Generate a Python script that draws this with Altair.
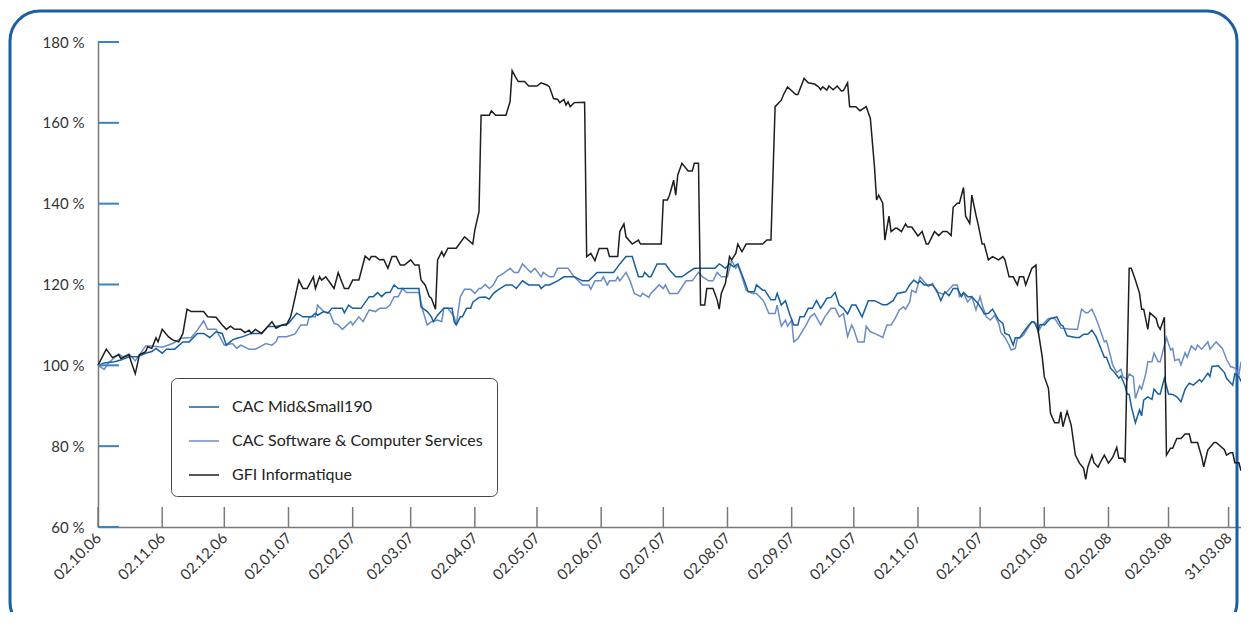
import altair as alt
import pandas as pd

START = "2006-10-02"
END_DAY = 552
SERIES = ["CAC Mid&Small190", "CAC Software & Computer Services", "GFI Informatique"]
COLORS = ["#17609f", "#6a8cc6", "#1e1e1e"]

# days since 02.10.06 and index values (%)
mid_days = [0, 3, 8, 11, 15, 19, 23, 26, 28, 31, 33, 37, 41, 44, 48, 51, 54, 57, 60, 62, 65, 67, 70, 74, 79, 82, 86, 89, 92, 96,
            99, 103, 105, 106, 109, 111, 113, 118, 119, 121, 123, 127, 131, 133, 135, 137, 139, 141, 143, 145, 147, 155, 156, 159,
            161, 162, 164, 167, 171, 172, 173, 175, 176, 178, 180, 181, 184, 187, 189, 191, 193, 197, 200, 202, 205, 208, 213, 214,
            216, 218, 222, 225, 230, 234, 237, 239, 241, 249, 252, 255, 258, 261, 263, 264, 266, 267, 270, 274, 276, 279, 282, 285,
            288, 298, 300, 301, 303, 305, 307, 309, 312, 314, 317, 318, 321, 322, 325, 327, 328, 330, 332, 334, 336, 338, 339, 341,
            343, 345, 347, 349, 352, 354, 356, 358, 360, 362, 364, 366, 369, 372, 375, 379, 381, 384, 386, 390, 392, 394, 396, 397,
            399, 403, 405, 407, 409, 411, 413, 415, 417, 418, 420, 422, 425, 427, 428, 430, 432, 435, 437, 438, 440, 442, 443, 445,
            446, 449, 451, 452, 454, 455, 457, 460, 463, 465, 466, 468, 472, 474, 476, 478, 480, 482, 484, 486, 487, 489, 491, 493,
            494, 496, 497, 498, 499, 501, 503, 504, 505, 507, 509, 510, 512, 513, 515, 517, 519, 521, 523, 525, 527, 529, 532, 533,
            536, 537, 538, 541, 544, 545, 548, 549, 551, 552]
mid_vals = [100.0, 100.6, 100.9, 101.3, 102.1, 102.1, 103.0, 103.4, 104.2, 103.0, 104.0, 104.0, 105.8, 105.8, 107.9, 107.9, 106.9,
            108.3, 107.9, 105.0, 106.3, 106.7, 107.1, 107.9, 107.9, 109.6, 109.6, 110.0, 110.4, 112.9,
            112.0, 112.0, 112.9, 112.4, 113.3, 112.9, 114.1, 114.1, 113.0, 114.9, 114.1, 114.1, 117.0, 117.0, 118.0, 117.0, 118.0,
            118.0, 119.9, 119.0, 119.0, 119.0, 114.5, 113.3,
            112.0, 110.8, 112.4, 114.1, 114.1, 110.8, 110.0, 112.0, 112.0, 114.1, 114.1, 115.6, 116.8, 116.9, 116.4, 117.8, 118.6,
            119.9, 119.9, 119.0, 120.9, 119.9, 119.9, 119.0,
            119.9, 119.9, 120.9, 121.9, 121.9, 120.9, 120.9, 121.9, 123.0, 123.0, 125.1, 126.9, 126.9, 121.9, 121.9, 123.0, 121.9,
            121.9, 125.1, 125.1, 123.6, 121.9, 121.9, 123.0,
            124.0, 124.0, 125.1, 124.8, 124.0, 125.1, 124.4, 125.1, 121.1, 118.2, 118.2, 119.9, 118.6, 118.6, 116.2, 116.2, 117.8,
            114.9, 116.0, 112.7, 110.0, 110.0, 112.0, 112.0,
            114.1, 114.1, 116.0, 114.1, 116.6, 116.8, 118.0, 114.9, 114.1, 112.7, 114.9, 114.9, 112.0, 116.0, 116.0, 115.0, 115.0,
            116.0, 117.8, 118.2, 119.9, 121.1, 120.3, 120.9,
            119.9, 119.9, 118.6, 116.0, 118.2, 117.2, 119.0, 119.0, 117.0, 118.0, 117.0, 117.0, 115.3, 113.7, 112.7, 112.9, 113.9,
            111.2, 110.4, 107.9, 107.5, 105.0, 106.8, 106.8,
            107.5, 109.6, 110.8, 110.8, 108.7, 110.1, 110.0, 111.6, 112.0, 110.0, 109.8, 107.3, 106.9, 106.9, 107.7, 107.7, 108.7,
            107.1, 104.6, 102.0, 102.0, 99.3, 98.2, 96.8,
            97.4, 94.9, 92.9, 92.8, 89.9, 85.8, 89.0, 87.5, 91.4, 92.2, 91.6, 94.1, 92.9, 92.9, 96.8, 92.9, 92.8, 92.2, 91.0, 94.1,
            95.6, 95.1, 96.5, 95.9,
            98.0, 97.2, 99.7, 99.9, 98.2, 96.8, 95.1, 97.9, 97.2, 96.0]

soft_days = [0, 3, 5, 10, 12, 15, 18, 23, 26, 31, 36, 40, 45, 48, 51, 53, 57, 61, 65, 67, 69, 73, 76, 79, 81, 84, 86, 87, 91, 95,
             98, 101, 102, 105, 106, 109, 112, 114, 116, 118, 122, 123, 126, 128, 131, 134, 136, 139, 141, 143, 145, 147, 149, 155,
             157, 159, 161, 164, 166, 167, 169, 172, 173, 175, 177, 180, 182, 184, 185, 187, 189, 191, 193, 196, 199, 201, 203, 205,
             207, 209, 211, 214, 215, 218, 220, 222, 227, 230, 234, 237, 238, 240, 243, 244, 246, 247, 250, 251, 252, 255, 257, 259,
             262, 263, 266, 267, 271, 273, 274, 276, 280, 284, 287, 290, 292, 295, 297, 299, 301, 304, 306, 308, 309, 311, 313, 316,
             318, 321, 322, 324, 327, 328, 329, 330, 332, 333, 335, 336, 338, 342, 344, 346, 349, 351, 354, 356, 358, 360, 362, 364,
             365, 367, 370, 371, 373, 375, 379, 381, 383, 385, 387, 389, 390, 392, 393, 395, 397, 399, 401, 403, 405, 408, 410, 413,
             415, 416, 418, 420, 422, 424, 426, 427, 429, 431, 433, 435, 436, 438, 440, 441, 443, 444, 445, 447, 449, 451, 453, 454,
             456, 459, 462, 465, 470, 473, 475, 477, 478, 480, 482, 483, 486, 487, 489, 490, 492, 494, 495, 497, 498, 500, 501, 503,
             504, 506, 507, 509, 510, 512, 513, 515, 516, 518, 519, 520, 522, 523, 525, 526, 528, 530, 531, 533, 536, 537, 540, 543,
             545, 547, 549, 551, 552]
soft_vals = [100.0, 99.0, 100.6, 102.8, 102.1, 102.8, 101.1, 104.8, 104.8, 104.5, 105.4, 106.7, 106.9, 108.7, 111.0, 108.9, 108.9,
             105.0, 105.4, 104.2, 105.0, 104.0, 104.0, 104.8, 105.4, 105.0, 105.8, 107.1, 107.1, 107.7,
             110.0, 110.0, 112.0, 112.0, 114.9, 113.3, 112.9, 110.4, 110.0, 108.9, 110.8, 110.0, 112.0, 110.8, 113.7, 113.3, 114.1,
             114.1, 114.9, 117.0, 117.0, 119.0, 118.0, 118.0,
             113.3, 110.0, 110.8, 111.2, 110.8, 114.1, 114.1, 112.0, 110.0, 117.0, 118.8, 118.8, 117.8, 119.0, 119.0, 120.0, 119.0,
             119.9, 121.9, 122.8, 124.0, 123.0, 123.0, 125.1,
             124.0, 123.0, 124.0, 121.9, 123.0, 121.9, 121.9, 124.0, 124.0, 121.9, 119.9, 119.9, 118.8, 120.9, 120.9, 121.9, 119.9,
             120.9, 120.9, 121.9, 120.9, 123.0, 120.9, 117.8,
             117.0, 117.8, 116.8, 117.8, 119.9, 119.0, 119.9, 117.8, 117.8, 120.9, 120.9, 123.0, 121.9, 120.9, 120.9, 123.0, 121.9,
             121.9, 126.0, 124.0, 124.8, 121.9, 118.6, 117.8,
             117.8, 116.2, 115.3, 112.8, 112.8, 114.9, 112.0, 109.7, 111.2, 109.7, 111.2, 105.8, 106.6, 110.0, 112.0, 112.8, 110.0,
             112.0, 114.1, 114.1, 112.0, 112.8, 107.1, 110.0,
             108.9, 105.8, 105.8, 109.7, 108.3, 107.9, 106.9, 110.0, 110.0, 111.6, 113.7, 114.5, 113.9, 115.7, 118.6, 118.0, 121.9,
             120.7, 119.5, 120.3, 118.2, 117.6, 118.2, 119.9,
             119.9, 117.0, 117.8, 115.7, 117.0, 113.7, 117.0, 114.9, 112.0, 111.2, 112.4, 110.4, 108.2, 106.9, 105.0, 103.8, 104.2,
             106.7, 106.7, 107.5, 109.2, 110.8, 110.4, 108.3,
             110.0, 111.6, 111.6, 109.2, 108.9, 108.9, 113.9, 113.0, 113.0, 113.9, 111.6, 110.2, 105.8, 106.1, 102.3, 100.1, 98.2,
             99.0, 97.2, 96.4, 97.9, 97.2, 91.8, 94.9,
             94.1, 97.9, 100.9, 100.9, 103.0, 100.9, 100.9, 105.0, 106.9, 103.8, 104.2, 101.2, 101.5, 100.1, 103.1, 102.0, 104.8,
             103.8, 105.0, 104.0, 105.8, 104.0, 105.8, 104.2,
             101.5, 99.7, 99.3, 97.7, 100.9]

gfi_days = [0, 4, 7, 10, 11, 15, 16, 18, 20, 23, 24, 26, 28, 29, 31, 34, 36, 39, 41, 43, 45, 51, 53, 57, 60, 62, 64, 66, 69, 71,
            73, 74, 76, 79, 82, 84, 86, 89, 91, 93, 94, 97, 99, 101, 104, 105, 107, 108, 110, 114, 116, 119, 121, 123, 126, 129,
            131, 132, 134, 136, 138, 140, 142, 144, 146, 148, 151, 153, 155, 156, 158, 160, 161, 163, 164, 166, 167, 169, 173, 177,
            181, 182, 184, 185, 189, 190, 192, 197, 199, 200, 202, 203, 206, 208, 212, 214, 217, 218, 220, 222, 223, 225, 226, 227,
            228, 230, 235, 236, 238, 240, 242, 246, 247, 251, 252, 254, 255, 258, 261, 262, 272, 273, 275, 276, 278, 279, 280, 282,
            285, 287, 288, 290, 291, 293, 294, 297, 299, 300, 301, 303, 305, 306, 308, 309, 311, 313, 321, 323, 325, 327, 330, 331,
            333, 337, 338, 341, 343, 346, 348, 349, 350, 352, 353, 355, 357, 359, 360, 362, 363, 366, 368, 371, 373, 375, 376, 377,
            379, 380, 382, 383, 385, 386, 388, 390, 391, 393, 396, 398, 400, 401, 404, 406, 408, 410, 412, 413, 415, 416, 418, 419,
            421, 422, 424, 425, 427, 428, 430, 432, 435, 437, 438, 440, 442, 444, 445, 447, 448, 451, 453, 454, 456, 457, 459, 460,
            462, 464, 465, 466, 468, 470, 472, 474, 476, 477, 478, 480, 481, 483, 484, 486, 488, 490, 492, 493, 495, 496, 498, 499,
            501, 503, 504, 505, 507, 508, 511, 512, 513, 515, 516, 518, 519, 521, 523, 525, 527, 528, 531, 533, 534, 536, 539, 540,
            544, 545, 547, 548, 549, 551, 552]
gfi_vals = [100.0, 104.0, 101.9, 102.6, 101.7, 102.6, 100.9, 97.9, 102.6, 103.4, 104.6, 104.2, 106.8, 105.8, 108.9, 107.1, 106.3,
            105.8, 107.9, 113.9, 113.3, 113.3, 112.0, 111.9, 110.0, 108.9, 109.7, 108.9, 108.9, 108.1,
            108.7, 107.9, 108.9, 107.9, 109.6, 110.8, 109.2, 110.0, 110.0, 112.0, 114.1, 121.1, 119.0, 119.0, 121.9, 119.0, 121.9,
            121.1, 121.9, 119.0, 122.9, 119.0, 119.0, 121.1, 121.1, 127.0,
            126.1, 126.9, 126.9, 126.1, 126.2, 124.0, 126.9, 126.9, 124.8, 124.8, 126.1, 124.8, 124.8, 121.1, 119.9, 117.0, 116.6,
            113.9, 126.1, 128.1, 127.0, 129.0, 129.0, 131.8,
            130.0, 133.5, 138.0, 161.9, 161.9, 163.0, 161.9, 161.9, 165.2, 172.9, 171.0, 170.2, 170.2, 169.1, 169.1, 169.9, 169.3,
            168.9, 166.0, 165.8, 165.0, 165.8, 164.4, 165.2,
            164.0, 165.0, 165.1, 126.9, 127.7, 125.9, 128.9, 128.9, 126.9, 126.9, 133.1, 135.0, 131.8, 130.0, 131.0, 130.0, 130.0,
            140.9, 140.9, 142.1, 145.8, 142.1, 147.1, 150.0,
            148.1, 148.1, 150.0, 150.0, 114.9, 114.9, 119.0, 119.0, 116.2, 113.9, 117.8, 120.3, 126.9, 126.1, 127.7, 130.0, 128.1,
            130.0, 130.0, 131.0, 131.0, 164.0, 165.6, 166.9,
            168.9, 167.0, 167.0, 171.0, 169.9, 169.6, 168.9, 168.2, 168.9, 168.1, 169.1, 168.2, 169.1, 167.9, 168.0, 169.9, 164.0,
            164.0, 163.0, 164.0, 161.1, 149.1, 140.9, 142.1,
            140.1, 131.0, 136.9, 133.1, 133.9, 133.9, 133.1, 135.0, 134.2, 134.2, 132.0, 133.1, 130.0, 130.0, 133.1, 132.1, 133.1,
            133.1, 132.1, 139.1, 140.1, 140.1, 144.0, 136.9,
            135.1, 142.1, 137.2, 135.0, 130.0, 130.0, 126.1, 126.9, 126.1, 126.9, 126.1, 121.9, 121.9, 119.9, 121.9, 121.9, 119.9,
            124.0, 124.8, 108.7, 102.1, 97.2, 94.3, 88.1,
            85.8, 85.8, 88.5, 84.8, 88.6, 85.2, 77.8, 75.8, 74.5, 71.8, 74.8, 77.8, 75.9, 74.8, 75.9, 77.8, 75.8, 77.2, 79.7, 77.0,
            77.0, 75.9, 124.0, 124.0,
            121.1, 117.8, 113.9, 113.9, 108.9, 113.0, 111.6, 109.7, 108.9, 111.9, 77.8, 79.5, 79.5, 81.9, 81.9, 83.0, 83.0, 80.9,
            80.9, 77.4, 74.9, 79.1, 80.9, 80.9,
            79.1, 77.8, 78.4, 78.4, 75.9, 75.9, 73.9]

x_tick_dates = ["2006-10-02", "2006-11-02", "2006-12-02", "2007-01-02", "2007-02-02", "2007-03-02", "2007-04-02",
                "2007-05-02", "2007-06-02", "2007-07-02", "2007-08-02", "2007-09-02", "2007-10-02", "2007-11-02",
                "2007-12-02", "2008-01-02", "2008-02-02", "2008-03-02", "2008-03-31"]
y_ticks = [60, 80, 100, 120, 140, 160, 180]

EPOCH = pd.Timestamp("1970-01-01")
base = pd.Timestamp(START)


def ms(ts):
    return int((ts - EPOCH).total_seconds() * 1000)


def day_ms(d):
    return ms(base + pd.Timedelta(days=d))


rows = []
for name, days, vals in [(SERIES[1], soft_days, soft_vals), (SERIES[0], mid_days, mid_vals), (SERIES[2], gfi_days, gfi_vals)]:
    for d, v in zip(days, vals):
        rows.append({"date": day_ms(d), "value": v, "series": name})
df = pd.DataFrame(rows)

tick_ms = [ms(pd.Timestamp(t)) for t in x_tick_dates]
domain_x = [day_ms(0), day_ms(END_DAY)]

W, H = 1143, 485
FONT = "Lato"

x_scale = alt.Scale(type="utc", domain=domain_x, nice=False)
y_scale = alt.Scale(domain=[60, 180], nice=False, zero=False)

x_axis = alt.Axis(values=tick_ms, labelExpr="utcFormat(datum.value, '%d.%m.%y')", labelAngle=-45,
                  labelAlign="right", labelBaseline="middle", tickSize=0, labelPadding=8,
                  domainColor="#7a7a7a", domainWidth=1.5, grid=False, title=None,
                  labelFontSize=15, labelColor="#333333", labelFont=FONT,
                  labelOverlap=False, labelFlush=False, labelBound=False)
y_axis = alt.Axis(values=y_ticks, labelExpr="datum.value + ' %'", tickSize=0, labelPadding=14,
                  domainColor="#7a7a7a", domainWidth=1.5, grid=False, title=None,
                  labelFontSize=15, labelColor="#333333", labelFont=FONT)

frame = alt.Chart(pd.DataFrame({"k": [0]})).mark_rect(
    fillOpacity=0, stroke="#1b5fa3", strokeWidth=3, cornerRadius=30
).encode(x=alt.value(-88), x2=alt.value(1139), y=alt.value(-31), y2=alt.value(590))

lines = alt.Chart(df).mark_line(strokeWidth=1.5).encode(
    x=alt.X("date:T", scale=x_scale, axis=x_axis),
    y=alt.Y("value:Q", scale=y_scale, axis=y_axis),
    color=alt.Color("series:N", scale=alt.Scale(domain=SERIES, range=COLORS),
                    legend=alt.Legend(title=None, orient="none", legendX=73, legendY=336,
                                      symbolType="stroke", symbolSize=900, symbolStrokeWidth=1.5,
                                      symbolOffset=4,
                                      labelFontSize=16, labelFont=FONT, labelColor="#222222",
                                      labelLimit=500, labelOffset=12, rowPadding=10, padding=13,
                                      strokeColor="#444444", cornerRadius=6, fillColor="white",
                                      direction="vertical")),
    detail="series:N",
)

y_tick_rules = alt.Chart(pd.DataFrame({"value": y_ticks})).mark_rule(
    color="#3f80c0", strokeWidth=2
).encode(y=alt.Y("value:Q", scale=y_scale, axis=y_axis), x=alt.value(0), x2=alt.value(21))

x_tick_rules = alt.Chart(pd.DataFrame({"date": tick_ms})).mark_rule(
    color="#7a7a7a", strokeWidth=1.5
).encode(x=alt.X("date:T", scale=x_scale, axis=x_axis), y=alt.value(H - 20), y2=alt.value(H))

chart = alt.layer(frame, lines, y_tick_rules, x_tick_rules).properties(
    width=W, height=H,
    autosize=alt.AutoSizeParams(type="none"),
    padding={"left": 90, "top": 34, "right": 0, "bottom": 85},
).configure_view(stroke="transparent").configure_legend(strokeWidth=1)

chart.save("out.html", embed_options={"renderer": "svg", "actions": False})
